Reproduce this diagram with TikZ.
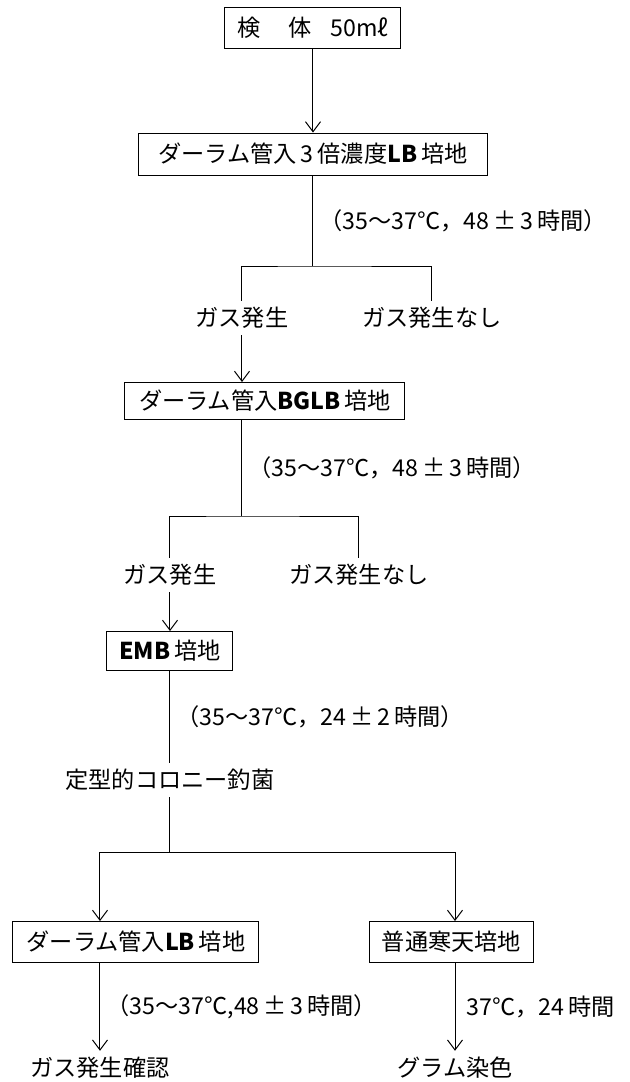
\documentclass[tikz,border=0pt]{standalone}
\usepackage{fontspec}
\setmainfont{Noto Sans CJK JP}
\usepackage{tikz}
\usetikzlibrary{arrows.meta}
\usetikzlibrary{positioning}

\begin{document}
\begin{tikzpicture}[->,>={Straight Barb[length=5pt,width=7.5pt]},line width=0.5pt,
	font=\fontsize{11.6}{14}\selectfont,
	box node/.style={draw,-,minimum height=20.5pt,inner sep=0pt},
	text node/.style={inner sep=3pt},
	time node/.style={right,inner sep=3pt}]
	
	\path[use as bounding box] (-156.5pt,14pt) rectangle ++(314.5pt,-541pt);
	
	\node[box node, minimum width=88pt] (n1) {検\hspace{1.2em}体\hspace{0.8em}50mℓ};
	\node[box node, minimum width=174.5pt, minimum height=21pt] (n2) [below of=n1, node distance=63pt] {ダーラム管入\,3\,倍濃度\textbf{LB}\,培地};
	\coordinate[below of=n2, node distance=56pt] (b1);
	\node[text node] (g1) [below of=b1, node distance=26pt, xshift=-35.5pt] {ガス発生};
	\node[text node] (g1n) [right of=g1, node distance=95pt] {ガス発生なし};
	\node[box node, minimum width=140pt, minimum height=18.5pt] (n3) [below of=g1, node distance=41.5pt, xshift=11.5pt] {ダーラム管入\textbf{BGLB}\,培地};
	\coordinate[below of=g1, node distance=99pt] (b2);
	\node[text node] (g2) [below of=b2, node distance=29.5pt, xshift=-36pt] {ガス発生};
	\node[text node] (g2n) [right of=g2, node distance=94.5pt] {ガス発生なし};
	\node[box node, minimum width=63pt, minimum height=19.5pt] (n4) [below of=g2, node distance=38pt] {\textbf{EMB}\,培地};
	\node[text node] (col) [below of=n4, node distance=64.5pt] {定型的コロニー釣菌};
	\coordinate[below of=col, node distance=36pt] (b3);
	\node[box node, minimum width=123pt] (n5) [below of=b3, node distance=45pt, xshift=-17pt] {ダーラム管入\textbf{LB}\,培地};
	\node[box node, minimum width=81.5pt] (n6) [right of=n5, node distance=157.75pt] {普通寒天培地};
	\node[text node] (e1) [below of=n5, node distance=63pt, xshift=-18pt] {ガス発生確認};
	\node[text node] (e2) [right of=e1, node distance=177.5pt] {グラム染色};
	
	% plain lines
	\path[-]
	(n2) edge node[time node] (t1) {（35～37℃，48\,±\,3\,時間）} (b1)
	(n3.south -| b2) edge node[time node] (t2) {（35～37℃，48\,±\,3\,時間）} (b2)
	(n4) edge node[time node] (t3) {（35～37℃，24\,±\,2\,時間）} (col)
	(col) edge (b3);
	\draw[-] (g1) |- (b1) -| (g1n);
	\draw[-] (g2) |- (b2) -| (g2n);
	
	% arrows
	\path
	(n1) edge (n2)
	(g1) edge (g1 |- n3.north)
	(g2) edge (g2 |- n4.north)
	(n5.south -| e1) edge node[time node] (t4) {（35～37℃,48\,±\,3\,時間）} (e1)
	(n6.south -| e2) edge node[time node, xshift=2.5pt] (t5) {37℃，24\,時間} (e2);
	\draw (b3) -| (n5.north -| e1);
	\draw (b3) -| (n6.north -| e2);
\end{tikzpicture}
\end{document}
